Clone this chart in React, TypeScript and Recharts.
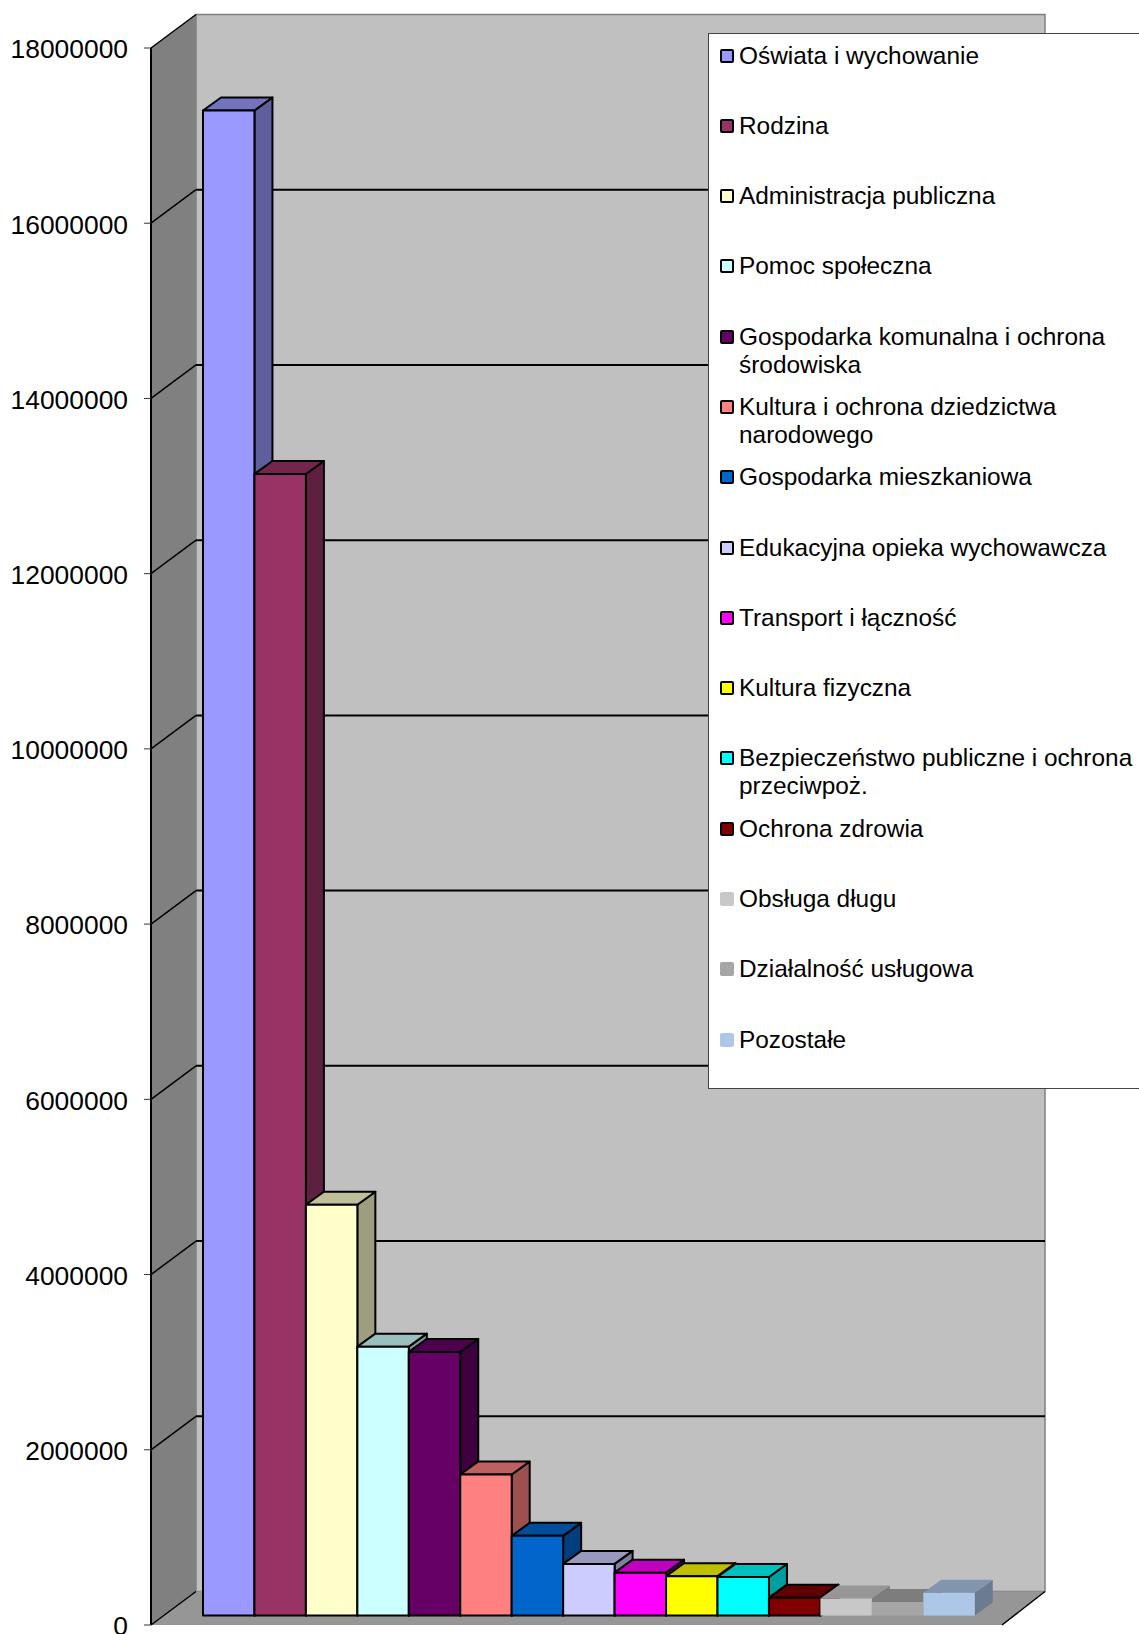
import { Bar, BarChart, CartesianGrid, Legend, XAxis, YAxis } from "recharts";

const categories = [
	"Oświata i wychowanie",
	"Rodzina",
	"Administracja publiczna",
	"Pomoc społeczna",
	"Gospodarka komunalna i ochrona środowiska",
	"Kultura i ochrona dziedzictwa narodowego",
	"Gospodarka mieszkaniowa",
	"Edukacyjna opieka wychowawcza",
	"Transport i łączność",
	"Kultura fizyczna",
	"Bezpieczeństwo publiczne i ochrona przeciwpoż.",
	"Ochrona zdrowia",
	"Obsługa długu",
	"Działalność usługowa",
	"Pozostałe",
];

const values = [
	17180000, 13030000, 4690000, 3070000, 3010000, 1610000, 910000, 590000,
	490000, 450000, 440000, 205000, 195000, 155000, 260000,
];

const colors = [
	"#9999FF", "#993366", "#FFFFCC", "#CCFFFF", "#660066", "#FF8080", "#0066CC",
	"#CCCCFF", "#FF00FF", "#FFFF00", "#00FFFF", "#800000", "#C8C8C8", "#A6A6A6",
	"#ADC7E8",
];

const yTicks = [
	0, 2000000, 4000000, 6000000, 8000000, 10000000, 12000000, 14000000, 16000000,
	18000000,
];

const row: Record<string, string | number> = { name: "" };
categories.forEach((c, i) => {
	row[c] = values[i];
});
const data = [row];

const FONT = "'Liberation Sans', Arial, sans-serif";
const OUTLINED = 12; // the last three series have no black edge

// front plane of the chart
const LEFT = 151;
const RIGHT = 1002;
const TOP = 48;
const BOTTOM = 1625;
// depth of the walls and of one bar
const WALL_DX = 45;
const WALL_DY = 33.5;
const BAR_DX = 18;
const BAR_DY = 13;
const BAR_LIFT = 9.4;

function shade(hex: string, f: number) {
	const n = parseInt(hex.slice(1), 16);
	const r = Math.round(((n >> 16) & 255) * f);
	const g = Math.round(((n >> 8) & 255) * f);
	const b = Math.round((n & 255) * f);
	return `rgb(${r},${g},${b})`;
}

function Walls() {
	const bx = LEFT + WALL_DX;
	const rx = RIGHT + WALL_DX - 2;
	const ty = TOP - WALL_DY;
	const by = BOTTOM - WALL_DY;
	return (
		<g>
			<polygon points={`${bx},${ty} ${rx},${ty} ${rx},${by} ${bx},${by}`} fill="#C0C0C0" stroke="#808080" strokeWidth={1.5} />
			<polygon points={`${LEFT},${TOP} ${bx},${ty} ${bx},${by} ${LEFT},${BOTTOM}`} fill="#808080" />
			<polygon points={`${LEFT},${BOTTOM} ${bx},${by} ${rx},${by} ${RIGHT},${BOTTOM}`} fill="#969696" />
			<line x1={RIGHT} y1={BOTTOM} x2={rx} y2={by} stroke="#000" strokeWidth={1.5} />
		</g>
	);
}

function WallLine(props: any) {
	const { x1, y1, index } = props;
	const bx = x1 + WALL_DX;
	const by = y1 - WALL_DY;
	const atEdge = Math.abs(y1 - TOP) < 1 || Math.abs(y1 - BOTTOM) < 1;
	return (
		<g key={`wall-line-${index}`}>
			<line x1={x1} y1={y1} x2={bx} y2={by} stroke="#000" strokeWidth={1.5} />
			{!atEdge && (
				<line x1={bx} y1={by} x2={RIGHT + WALL_DX - 2} y2={by} stroke="#000" strokeWidth={2} />
			)}
		</g>
	);
}

function Box(props: any) {
	const { x, y, width, height, fill, outlined } = props;
	const top = y - BAR_LIFT;
	const bottom = top + height;
	const right = x + width;
	const edge = outlined
		? { stroke: "#000", strokeWidth: 2, strokeLinejoin: "round" as const }
		: { stroke: "none" };
	return (
		<g>
			<polygon
				points={`${right},${top} ${right + BAR_DX},${top - BAR_DY} ${right + BAR_DX},${bottom - BAR_DY} ${right},${bottom}`}
				fill={shade(fill, 0.62)}
				{...edge}
			/>
			<polygon
				points={`${x},${top} ${x + BAR_DX},${top - BAR_DY} ${right + BAR_DX},${top - BAR_DY} ${right},${top}`}
				fill={shade(fill, 0.75)}
				{...edge}
			/>
			<rect x={x} y={top} width={width} height={height} fill={fill} {...edge} />
		</g>
	);
}

function LegendBox(props: any) {
	const items = props.payload ?? [];
	return (
		<div
			style={{
				boxSizing: "border-box",
				width: 431,
				height: 1056,
				background: "#fff",
				border: "1.5px solid #444",
				borderRight: "none",
				fontFamily: FONT,
				fontSize: 24.4,
				lineHeight: "28px",
				color: "#000",
				paddingTop: 7.5,
			}}
		>
			{items.map((item: any, i: number) => (
				<div key={item.value} style={{ position: "relative", height: 70.3, paddingLeft: 30 }}>
					<span
						style={{
							position: "absolute",
							left: 11,
							top: 7,
							width: 14,
							height: 14,
							boxSizing: "border-box",
							background: item.color,
							border: i < OUTLINED ? "2px solid #000" : "none",
							borderRadius: 2,
						}}
					/>
					{item.value}
				</div>
			))}
		</div>
	);
}

export default function App() {
	return (
		<div style={{ position: "absolute", left: 0, top: 0, width: 1139, height: 1634 }}>
			<BarChart
				width={1139}
				height={1634}
				data={data}
				margin={{ top: TOP, right: 1139 - RIGHT, bottom: 1634 - BOTTOM, left: 0 }}
				barCategoryGap={0}
				barGap={0}
				barSize={51.45}
			>
				<Walls />
				<CartesianGrid
					zIndex={1}
					vertical={false}
					horizontal={(p: any) => <WallLine {...p} />}
				/>
				<XAxis
					dataKey="name"
					height={0}
					tick={false}
					tickLine={false}
					axisLine={{ stroke: "#000", strokeWidth: 3 }}
					padding={{ left: 51, right: 27 }}
				/>
				<YAxis
					width={LEFT}
					domain={[0, 18000000]}
					ticks={yTicks}
					interval={0}
					tickSize={7}
					tickMargin={16}
					axisLine={{ stroke: "#000", strokeWidth: 2 }}
					tickLine={{ stroke: "#333" }}
					tick={{ fill: "#000", fontSize: 26.4, fontFamily: FONT, dy: 1 }}
				/>
				{categories.map((c, i) => (
					<Bar
						key={c}
						dataKey={c}
						fill={colors[i]}
						isAnimationActive={false}
						shape={(p: any) => <Box {...p} outlined={i < OUTLINED} />}
					/>
				))}
				<Legend
					layout="horizontal"
					verticalAlign="middle"
					itemSorter={null}
					wrapperStyle={{ left: 708, top: 33, width: 431, height: 1056 }}
					content={(p: any) => <LegendBox {...p} />}
				/>
			</BarChart>
		</div>
	);
}
